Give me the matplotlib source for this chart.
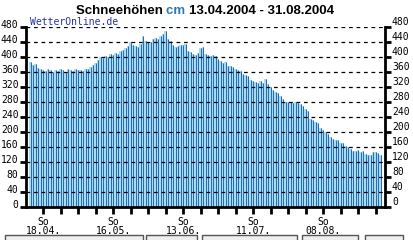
import datetime as dt
import matplotlib
matplotlib.use("Agg")
import matplotlib.pyplot as plt
from matplotlib.patches import Rectangle
from matplotlib.transforms import ScaledTranslation

# Schneehöhen in cm, ein Wert pro Tag ab 13.04.2004
start = dt.date(2004, 4, 13)
schnee = [
    388, 380, 382, 372, 368, 366, 364, 368, 366, 362,
    366, 364, 368, 366, 362, 368, 366, 364, 368, 366,
    366, 364, 370, 368, 374, 380, 386, 394, 400, 398,
    404, 402, 410, 406, 412, 408, 416, 420, 426, 430,
    440, 434, 430, 428, 436, 456, 444, 440, 442, 450,
    452, 448, 458, 462, 470, 448, 444, 432, 428, 430,
    434, 432, 436, 418, 414, 408, 406, 412, 426, 428,
    410, 406, 404, 406, 404, 395, 390, 386, 388, 378,
    376, 374, 368, 366, 364, 356, 354, 350, 340, 336,
    334, 332, 336, 332, 342, 330, 322, 314, 308, 304,
    296, 290, 282, 280, 280, 278, 280, 278, 276, 270,
    262, 256, 236, 232, 226, 224, 210, 206, 200, 196,
    186, 182, 180, 178, 172, 170, 164, 160, 154, 150,
    150, 152, 148, 150, 142, 140, 138, 148, 146, 144,
    140,
]
y_ticks = list(range(0, 481, 40))
sonntage = ["18.04.", "16.05.", "13.06.", "11.07.", "08.08."]

tage = list(range(len(schnee)))
mono = "DejaVu Sans Mono"

fig = plt.figure(figsize=(4.13, 2.40), dpi=100)
ax = fig.add_axes([25.5 / 413, 33 / 240, 359.5 / 413, 179.5 / 240])

ax.bar(tage, schnee, width=1.0, color="#a6dcf4", linewidth=0, zorder=1)
ax.vlines(tage, 0, schnee, color="#2468b0", linewidth=0.7, zorder=2)

for v in y_ticks[1:]:
    ax.axhline(v, color="black", linewidth=0.9, linestyle=(0, (3, 3)), zorder=3)

ax.set_xlim(-2, 141.8)
ax.set_ylim(0, 480)
ax.set_yticks(y_ticks)

# Wochen-Ticks (Sonntage)
first_sunday = (dt.date(2004, 4, 18) - start).days
week_ticks = list(range(first_sunday, len(schnee), 7))
ax.set_xticks(week_ticks)
labels = []
for i, d in enumerate(week_ticks):
    labels.append("So\n" + sonntage[i // 4] if i % 4 == 0 else "")
ax.set_xticklabels(labels, fontfamily=mono, fontsize=7, linespacing=0.95)
ax.tick_params(axis="x", length=5, width=2, pad=2)

ax.tick_params(axis="y", which="both", length=4, width=2, labelsize=7, pad=1,
               left=True, right=True, labelleft=True, labelright=True)
fig.canvas.draw()
for lbl in ax.yaxis.get_ticklabels() + [t.label2 for t in ax.yaxis.get_major_ticks()]:
    lbl.set_fontfamily(mono)
    lbl.set_transform(lbl.get_transform() + ScaledTranslation(0, 3 / 100, fig.dpi_scale_trans))

for s in ["left", "right", "bottom"]:
    ax.spines[s].set_linewidth(2)
    ax.spines[s].set_color("black")
ax.spines["top"].set_visible(False)

# Titel aus drei Teilen, zentriert
teile = [("Schneehöhen ", "black"), ("cm ", "#2a7ab8"), ("13.04.2004 - 31.08.2004", "black")]
renderer = fig.canvas.get_renderer()
texte = []
breite = 0
for s, c in teile:
    t = fig.text(0, 0.955, s, ha="left", va="center", fontsize=9.5,
                 fontweight="bold", family="Liberation Sans", color=c)
    w = t.get_window_extent(renderer).width
    texte.append((t, w))
    breite += w
x = (205 - breite / 2)
for t, w in texte:
    t.set_x(x / 413)
    x += w

ax.text(0.012, 1.0, "WetterOnline.de", transform=ax.transAxes, ha="left", va="bottom",
        fontsize=7, family=mono, color="#2233aa")

# graue Rahmen am unteren Rand
for x0, x1 in [(5, 143), (146, 197), (202, 297), (302, 358), (365, 403)]:
    fig.patches.append(Rectangle((x0 / 413, -0.02), (x1 - x0) / 413, 0.04,
                                 transform=fig.transFigure, facecolor="#eeeeee",
                                 edgecolor="#555555", linewidth=1))

fig.savefig("out.png", dpi=100)
